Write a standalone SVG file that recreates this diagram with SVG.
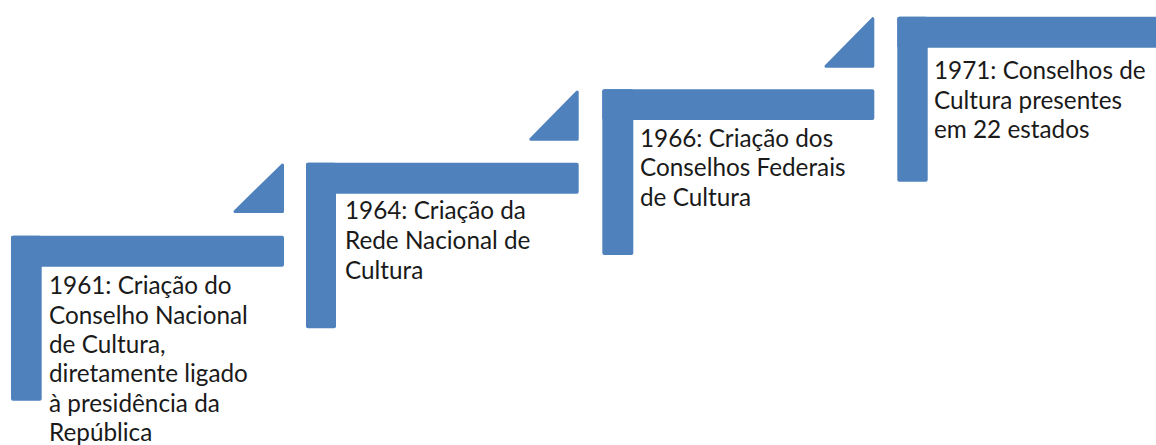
<svg xmlns="http://www.w3.org/2000/svg" width="1156" height="445" viewBox="0 0 1156 445">
<style>
.bar{fill:#4F81BD}
.tri{fill:#4F81BD;stroke:#4F81BD;stroke-width:3;stroke-linejoin:round}
.t{font-family:Lato,"Liberation Sans",sans-serif;font-size:24.3px;fill:#1a1a1a}
</style>
<rect width="1156" height="445" fill="#fff"/>
<g id="step1961">
<rect class="bar" x="11" y="235.7" width="273" height="31" rx="2"/>
<rect class="bar" x="11" y="235.7" width="30.7" height="165" rx="2"/>
<text class="t"><tspan x="49" y="294.3">1961: Criação do</tspan><tspan x="49" y="323.6">Conselho Nacional</tspan><tspan x="49" y="352.9">de Cultura,</tspan><tspan x="49" y="382.2">diretamente ligado</tspan><tspan x="49" y="411.5">à presidência da</tspan><tspan x="49" y="440.8">República</tspan></text>
</g>
<g id="step1964">
<rect class="bar" x="306" y="162.7" width="272.7" height="31" rx="2"/>
<rect class="bar" x="306" y="162.7" width="30" height="165.6" rx="2"/>
<text class="t"><tspan x="345" y="219.3">1964: Criação da</tspan><tspan x="345" y="248.9">Rede Nacional de</tspan><tspan x="345" y="278.5">Cultura</tspan></text>
</g>
<g id="step1966">
<rect class="bar" x="602.3" y="89.3" width="272" height="30.7" rx="2"/>
<rect class="bar" x="602.3" y="89.3" width="31" height="165.7" rx="2"/>
<text class="t"><tspan x="640" y="146.7">1966: Criação dos</tspan><tspan x="640" y="176.1">Conselhos Federais</tspan><tspan x="640" y="205.5">de Cultura</tspan></text>
</g>
<g id="step1971">
<rect class="bar" x="897.3" y="16.7" width="270" height="31" rx="2"/>
<rect class="bar" x="897.3" y="16.7" width="30.4" height="165" rx="2"/>
<text class="t"><tspan x="934" y="79.3">1971: Conselhos de</tspan><tspan x="934" y="108.7">Cultura presentes</tspan><tspan x="934" y="138.1">em 22 estados</tspan></text>
</g>
<g id="connectors">
<polygon class="tri" points="282.5,165 282.5,211.5 235,211.5"/>
<polygon class="tri" points="577.2,92 577.2,139.2 530.8,139.2"/>
<polygon class="tri" points="872.8,18.7 872.8,66.2 826,66.2"/>
</g>
</svg>
